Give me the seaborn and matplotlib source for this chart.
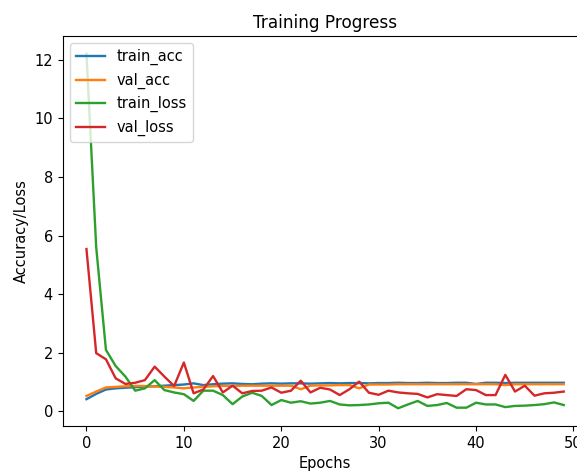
import numpy as np
import pandas as pd
import matplotlib
matplotlib.use("Agg")
import matplotlib.pyplot as plt
import seaborn as sns

epochs = list(range(50))

train_acc = [0.42, 0.60, 0.75, 0.79, 0.81, 0.83, 0.85, 0.86, 0.88, 0.90,
             0.92, 0.96, 0.90, 0.93, 0.95, 0.96, 0.94, 0.93, 0.95, 0.96,
             0.95, 0.96, 0.96, 0.95, 0.96, 0.97, 0.96, 0.97, 0.97, 0.96,
             0.97, 0.97, 0.98, 0.97, 0.97, 0.98, 0.97, 0.97, 0.98, 0.98,
             0.94, 0.98, 0.98, 0.97, 0.98, 0.98, 0.98, 0.98, 0.98, 0.98]

val_acc = [0.53, 0.68, 0.82, 0.84, 0.86, 0.87, 0.87, 0.85, 0.84, 0.82,
           0.79, 0.82, 0.84, 0.86, 0.87, 0.87, 0.88, 0.88, 0.88, 0.88,
           0.88, 0.88, 0.76, 0.88, 0.89, 0.89, 0.90, 0.90, 0.79, 0.92,
           0.92, 0.92, 0.93, 0.93, 0.93, 0.93, 0.93, 0.93, 0.93, 0.93,
           0.93, 0.93, 0.93, 0.90, 0.93, 0.93, 0.93, 0.93, 0.93, 0.93]

train_loss = [12.2, 5.6, 2.1, 1.55, 1.19, 0.71, 0.79, 1.07, 0.73, 0.65,
              0.59, 0.36, 0.71, 0.71, 0.56, 0.25, 0.51, 0.64, 0.53, 0.22,
              0.39, 0.30, 0.35, 0.27, 0.30, 0.36, 0.24, 0.21, 0.22, 0.24,
              0.28, 0.30, 0.11, 0.24, 0.36, 0.19, 0.22, 0.29, 0.13, 0.13,
              0.30, 0.24, 0.24, 0.15, 0.19, 0.20, 0.22, 0.25, 0.31, 0.22]

val_loss = [5.54, 1.99, 1.78, 1.13, 0.94, 0.98, 1.07, 1.53, 1.19, 0.87,
            1.67, 0.62, 0.75, 1.21, 0.65, 0.88, 0.62, 0.70, 0.71, 0.82,
            0.64, 0.71, 1.05, 0.65, 0.81, 0.75, 0.56, 0.76, 1.02, 0.64,
            0.57, 0.71, 0.65, 0.62, 0.60, 0.48, 0.59, 0.56, 0.53, 0.76,
            0.73, 0.56, 0.56, 1.25, 0.68, 0.88, 0.54, 0.62, 0.64, 0.68]

series_names = ["train_acc", "val_acc", "train_loss", "val_loss"]
series_values = [train_acc, val_acc, train_loss, val_loss]

plt.rcParams["font.size"] = 10.5
plt.rcParams["axes.titlesize"] = 12.2

fig = plt.figure(figsize=(5.77, 4.72), dpi=100)
ax = fig.add_axes([62.6 / 577, 1 - 426 / 472, 525 / 577, 390 / 472])

for name, vals in zip(series_names, series_values):
    sns.lineplot(x=epochs, y=vals, label=name, ax=ax, linewidth=1.7)

ax.set_title("Training Progress")
ax.set_xlabel("Epochs")
ax.set_ylabel("Accuracy/Loss")
ax.legend(loc="upper left")

fig.savefig("out.png", dpi=100)
